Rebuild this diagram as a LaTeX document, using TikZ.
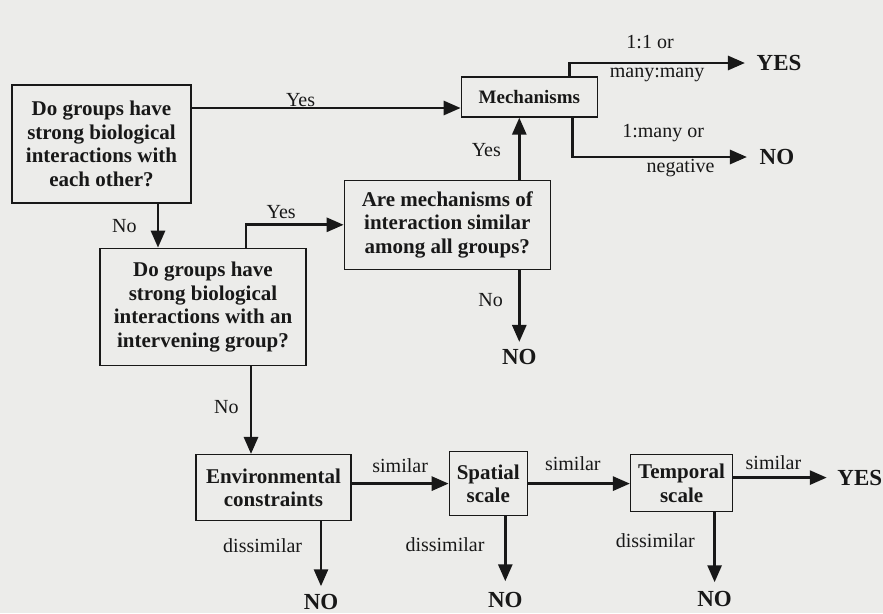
\documentclass[tikz,border=0pt]{standalone}
\usepackage{fontspec}
\setmainfont{Liberation Serif}
\usetikzlibrary{positioning,arrows.meta}
\definecolor{bgcol}{RGB}{236,236,234}
\definecolor{ink}{RGB}{24,24,24}
\tikzset{
  qbox/.style={draw=ink, line width=1.3pt, align=center, text=ink, inner sep=0pt,
    font=\fontsize{21}{23.5}\selectfont\bfseries},
  lbl/.style={text=ink, inner sep=0pt, font=\fontsize{20}{22}\selectfont},
  term/.style={text=ink, inner sep=0pt, font=\fontsize{23}{25}\selectfont\bfseries},
  arr/.style={draw=ink, line width=2.8pt, -{Triangle[length=17pt,width=14pt]}},
}

\begin{document}
\begin{tikzpicture}[x=1pt,y=-1pt]
  \fill[bgcol] (0,0) rectangle (883,613);
  \useasboundingbox (0,0) rectangle (883,613);

  % Define nodes
  \node[qbox, minimum width=179pt, minimum height=118pt] (q1) at (101.5,144)
    {Do groups have\\strong biological\\interactions with\\each other?};
  \node[qbox, minimum width=206pt, minimum height=117pt, below=44pt of q1, xshift=101.5pt] (q2)
    {Do groups have\\strong biological\\interactions with an\\intervening group?};
  \node[qbox, minimum width=206pt, minimum height=89pt, right=37pt of q2, yshift=82pt] (q3)
    {Are mechanisms of\\interaction similar\\among all groups?};
  \node[qbox, minimum width=136pt, minimum height=40pt, right=269pt of q1, yshift=47pt,
    font=\fontsize{19}{22}\selectfont\bfseries] (mech) {Mechanisms};
  \node[qbox, minimum width=155pt, minimum height=66pt, below=88pt of q2, xshift=70.5pt] (env)
    {Environmental\\constraints};
  \node[qbox, minimum width=78pt, minimum height=64pt, right=97pt of env, yshift=4pt] (spatial)
    {Spatial\\scale};
  \node[qbox, minimum width=102pt, minimum height=57pt, right=102pt of spatial, yshift=0.5pt] (temporal)
    {Temporal\\scale};

  % Outcomes
  \node[term, right=158.5pt of mech, yshift=34pt] (yes1) {YES};
  \node[term, right=161.5pt of mech, yshift=-60pt] (no1) {NO};
  \node[term, below=79pt of q3, xshift=72pt] (no2) {NO};
  \node[term, below=73pt of env, xshift=47.5pt] (no3) {NO};
  \node[term, below=76pt of spatial, xshift=17pt] (no4) {NO};
  \node[term, below=79pt of temporal, xshift=33pt] (no5) {NO};
  \node[term, right=104pt of temporal, yshift=5.5pt] (yes2) {YES};

  % Connect the nodes
  \draw[arr] ([yshift=36pt]q1.east) -- ([yshift=36pt]q1.east -| mech.west)
    node[lbl, pos=0.405, above=0pt] {Yes};
  \draw[arr] ([xshift=56.5pt]q1.south) -- ([xshift=56.5pt]q1.south |- q2.north)
    node[lbl, midway, left=20pt] {No};
  \draw[arr] ([xshift=43pt]q2.north) |- (q3.west)
    node[lbl, pos=0.68, above=5pt] {Yes};
  \draw[arr] (q3.north -| no2) -- (mech.south -| no2)
    node[lbl, pos=0.47, left=17pt] {Yes};
  \draw[arr] (q3.south -| no2) -- ([yshift=7pt]no2.north)
    node[lbl, pos=0.42, left=15pt] {No};
  \draw[arr] ([xshift=40pt]mech.north) |- ([xshift=-11.5pt]yes1.west)
    node[lbl, pos=0.73, above=13pt] {1:1 or}
    node[lbl, pos=0.75, below=3.5pt] {many:many};
  \draw[arr] ([xshift=43pt]mech.south) |- ([xshift=-12.5pt]no1.west)
    node[lbl, pos=0.76, above=14pt] {1:many or}
    node[lbl, pos=0.81, below=0.5pt] {negative};
  \draw[arr] ([xshift=48pt]q2.south) -- ([xshift=48pt]q2.south |- env.north)
    node[lbl, pos=0.47, left=11pt] {No};

  % Scale checks
  \draw[arr] (env.east |- spatial.west) -- (spatial.west)
    node[lbl, midway, above=10pt] {similar};
  \draw[arr] (spatial.east) -- (spatial.east -| temporal.west)
    node[lbl, pos=0.44, above=12pt] {similar};
  \draw[arr] (temporal.east |- yes2.west) -- ([xshift=-10.5pt]yes2.west)
    node[lbl, pos=0.43, above=7pt] {similar};
  \draw[arr] (env.south -| no3) -- ([yshift=8pt]no3.north)
    node[lbl, pos=0.38, left=17.5pt] {dissimilar};
  \draw[arr] (spatial.south -| no4) -- ([yshift=11pt]no4.north)
    node[lbl, pos=0.43, left=19.5pt] {dissimilar};
  \draw[arr] (temporal.south -| no5) -- ([yshift=9pt]no5.north)
    node[lbl, pos=0.41, left=18.5pt] {dissimilar};
\end{tikzpicture}
\end{document}
